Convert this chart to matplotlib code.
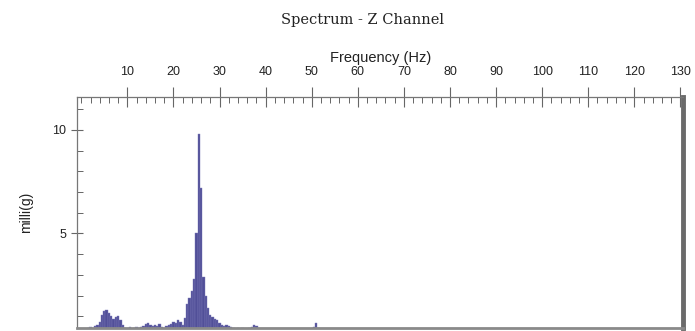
import matplotlib.pyplot as plt
from matplotlib.ticker import MultipleLocator

# ------------------ DATA ------------------
# spectrum bins (Hz) and amplitude (milli g)
freq = [0.5, 1.0, 1.5, 2.0, 2.5, 3.0, 3.5, 4.0, 4.5, 5.0,
        5.5, 6.0, 6.5, 7.0, 7.5, 8.0, 8.5, 9.0, 9.5, 10.0,
        10.5, 11.0, 11.5, 12.0, 12.5, 13.0, 13.5, 14.0, 14.5, 15.0,
        15.5, 16.0, 16.5, 17.0, 17.5, 18.0, 18.5, 19.0, 19.5, 20.0,
        20.5, 21.0, 21.5, 22.0, 22.5, 23.0, 23.5, 24.0, 24.5, 25.0,
        25.5, 26.0, 26.5, 27.0, 27.5, 28.0, 28.5, 29.0, 29.5, 30.0,
        30.5, 31.0, 31.5, 32.0, 32.5, 33.0, 33.5, 34.0, 34.5, 35.0,
        35.5, 36.0, 36.5, 37.0, 37.5, 38.0, 38.5, 39.0, 39.5, 40.0,
        50.0, 50.5, 51.0, 51.5]
amp = [0.30, 0.35, 0.45, 0.50, 0.45, 0.55, 0.60, 0.75, 1.05, 1.25,
       1.30, 1.15, 1.00, 0.85, 0.95, 1.00, 0.80, 0.60, 0.45, 0.40,
       0.50, 0.40, 0.45, 0.50, 0.45, 0.50, 0.55, 0.65, 0.70, 0.60,
       0.55, 0.60, 0.55, 0.65, 0.50, 0.45, 0.55, 0.60, 0.65, 0.75,
       0.70, 0.80, 0.75, 0.60, 0.90, 1.60, 1.90, 2.20, 2.80, 5.00,
       9.80, 7.20, 2.90, 2.00, 1.40, 1.05, 0.95, 0.85, 0.80, 0.70,
       0.60, 0.55, 0.60, 0.55, 0.50, 0.45, 0.40, 0.45, 0.40, 0.45,
       0.40, 0.40, 0.45, 0.50, 0.60, 0.55, 0.40, 0.38, 0.36, 0.35,
       0.35, 0.50, 0.70, 0.45]

x_ticks = [10, 20, 30, 40, 50, 60, 70, 80, 90, 100, 110, 120, 130]
y_ticks = [5, 10]

# ------------------ PLOT ------------------
fig = plt.figure(figsize=(6.95, 3.31), dpi=100)
ax = fig.add_axes([0.111, 0.008, 0.872, 0.700])

ax.bar(freq, amp, width=0.5, color="#514f98", edgecolor="#7c7ab8",
       linewidth=0.3)

ax.set_xlim(-0.9, 130.6)
ax.set_ylim(0.42, 11.6)

ax.xaxis.tick_top()
ax.xaxis.set_label_position("top")
ax.set_xticks(x_ticks)
ax.xaxis.set_minor_locator(MultipleLocator(2))
ax.set_yticks(y_ticks)
ax.yaxis.set_minor_locator(MultipleLocator(1))

ax.tick_params(axis="x", which="major", direction="inout", length=14,
               width=0.8, color="#666666", labelsize=9, pad=6.5)
ax.tick_params(axis="x", which="minor", direction="in", length=4,
               width=0.7, color="#666666")
ax.tick_params(axis="y", which="major", direction="inout", length=9,
               width=0.8, color="#666666", labelsize=9, pad=3.5)
ax.tick_params(axis="y", which="minor", direction="in", length=4.3,
               width=0.7, color="#666666")

for lab in ax.get_xticklabels() + ax.get_yticklabels():
    lab.set_family(["Liberation Sans", "DejaVu Sans"])
    lab.set_color("#222222")

ax.set_xlabel("Frequency (Hz)", fontsize=10.5, family=["Liberation Sans"],
              labelpad=3, color="#222222")
ax.set_ylabel("milli(g)", fontsize=10, family=["Liberation Sans"],
              labelpad=14, color="#222222")

for side in ["top", "left"]:
    ax.spines[side].set_color("#777777")
    ax.spines[side].set_linewidth(0.9)
ax.spines["right"].set_color("#6a6a6a")
ax.spines["right"].set_linewidth(3.5)
ax.spines["bottom"].set_color("#8a8a8a")
ax.spines["bottom"].set_linewidth(2)

fig.text(0.521, 0.94, "Spectrum - Z Channel", ha="center", va="center",
         fontsize=10.5, family=["DejaVu Serif"], color="#222222")

plt.savefig("out.png", dpi=100)
plt.close()
